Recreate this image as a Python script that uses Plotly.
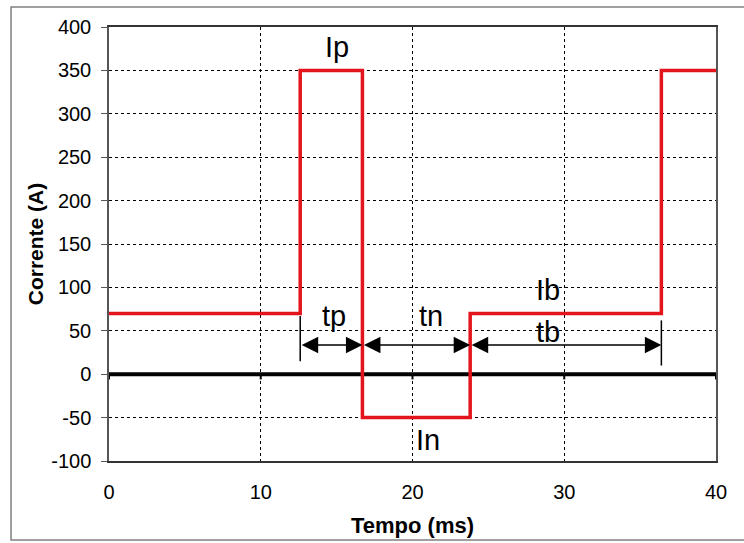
import plotly.graph_objects as go

# Pulsed current waveform: switching instants (ms) and current level held after each instant (A)
switch_times = [0, 12.6, 16.7, 23.8, 36.4, 40]
current_levels = [70, 350, -50, 70, 350, 350]

# Level labels: text, x (ms), y (A)
level_labels = ["Ip", "Ib", "In"]
level_label_x = [15.0, 28.9, 21.0]
level_label_y = [377, 97, -76]

# Duration markers: label, start (ms), end (ms)
interval_names = ["tp", "tn", "tb"]
interval_start = [12.6, 16.7, 23.8]
interval_end = [16.7, 23.8, 36.4]
interval_label_x = [14.8, 21.2, 28.9]
interval_label_y = [67, 67, 49]
arrow_level = 33.5

x_ticks = [0, 10, 20, 30, 40]
y_ticks = [-100, -50, 0, 50, 100, 150, 200, 250, 300, 350, 400]

FONT = "Liberation Sans, Arial, sans-serif"
RED = "#e3141b"

fig = go.Figure()

fig.add_trace(go.Scatter(
    x=switch_times, y=current_levels, mode="lines", line_shape="hv",
    line=dict(color=RED, width=3.5), hoverinfo="skip", showlegend=False,
))

shapes = []
# thick zero axis with small ticks
shapes.append(dict(type="line", xref="x", yref="y", x0=x_ticks[0], x1=x_ticks[-1],
                   y0=0, y1=0, line=dict(color="black", width=4), layer="between"))
for xt in x_ticks:
    shapes.append(dict(type="line", xref="x", yref="y", x0=xt, x1=xt, y0=0, y1=-6,
                       line=dict(color="black", width=2), layer="between"))
# bracket lines delimiting the durations
shapes.append(dict(type="line", xref="x", yref="y", x0=interval_start[0], x1=interval_start[0],
                   y0=15, y1=67, line=dict(color="black", width=1.5)))
shapes.append(dict(type="line", xref="x", yref="y", x0=interval_end[-1], x1=interval_end[-1],
                   y0=10, y1=62, line=dict(color="black", width=1.5)))
# outer chart frame
shapes.append(dict(type="rect", xref="paper", yref="paper", x0=-0.1614, x1=1.08,
                   y0=-0.182, y1=1.046, line=dict(color="#808080", width=1.5),
                   fillcolor="rgba(0,0,0,0)", layer="below"))

annotations = []
for txt, lx, ly in zip(level_labels, level_label_x, level_label_y):
    annotations.append(dict(x=lx, y=ly, xref="x", yref="y", text=txt, showarrow=False,
                            font=dict(family=FONT, size=29, color="black")))
for txt, lx, ly in zip(interval_names, interval_label_x, interval_label_y):
    annotations.append(dict(x=lx, y=ly, xref="x", yref="y", text=txt, showarrow=False,
                            font=dict(family=FONT, size=29, color="black")))
for s, e in zip(interval_start, interval_end):
    annotations.append(dict(x=e, y=arrow_level, ax=s, ay=arrow_level, xref="x", yref="y",
                            axref="x", ayref="y", text="", showarrow=True,
                            arrowside="end+start", arrowhead=2, arrowsize=2.2,
                            arrowwidth=1.5, arrowcolor="black"))

fig.update_layout(
    width=744, height=543,
    margin=dict(l=109, r=28, t=27, b=82),
    paper_bgcolor="white", plot_bgcolor="white",
    font=dict(family=FONT, size=20, color="black"),
    shapes=shapes, annotations=annotations,
    showlegend=False,
)

fig.update_xaxes(
    range=[0, 40], tickvals=x_ticks, ticktext=[str(v) for v in x_ticks],
    ticks="", ticklabelstandoff=12, automargin=False,
    showgrid=True, gridcolor="black", gridwidth=1, griddash="3px,3px",
    showline=True, linecolor="#333333", linewidth=1.5, mirror=True,
    zeroline=False,
    title=dict(text="<b>Tempo (ms)</b>", font=dict(family=FONT, size=22), standoff=16),
)
fig.update_yaxes(
    range=[-100, 400], tickvals=y_ticks, ticktext=[str(v) for v in y_ticks],
    ticks="outside", ticklen=6, tickcolor="#555555",
    ticklabelstandoff=6, automargin=False,
    showgrid=True, gridcolor="black", gridwidth=1, griddash="3px,3px",
    showline=True, linecolor="#555555", linewidth=1.5, mirror=True,
    zeroline=False,
    title=dict(text="<b>Corrente (A)</b>", font=dict(family=FONT, size=21), standoff=2),
)

fig.write_html("out.html")
